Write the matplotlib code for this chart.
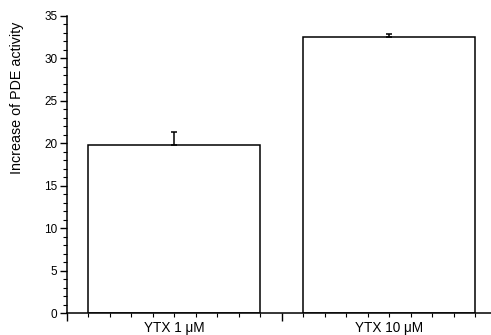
import matplotlib.pyplot as plt
from matplotlib.ticker import MultipleLocator, FixedLocator

plt.rcParams['font.family'] = ['Liberation Sans', 'DejaVu Sans']

# data
groups = ['YTX 1 μM', 'YTX 10 μM']
values = [19.8, 32.5]
errors = [1.5, 0.4]
positions = [5, 15]

fig = plt.figure(figsize=(4.91, 3.35), dpi=100)
ax = fig.add_axes([0.1365, 0.0648, 0.8635, 0.8875])

ax.bar(positions, values, width=8, color='white', edgecolor='black', linewidth=1.1, zorder=2)
ax.errorbar(positions, values, yerr=[[0, 0], errors], fmt='none', ecolor='black',
            elinewidth=1.1, capsize=2.5, capthick=1.1, zorder=3)

ax.set_xlim(0, 19.74)
ax.set_ylim(0, 35)
ax.spines['top'].set_visible(False)
ax.spines['right'].set_visible(False)
ax.spines['left'].set_linewidth(1.1)
ax.spines['bottom'].set_linewidth(1.1)

ax.yaxis.set_major_locator(MultipleLocator(5))
ax.yaxis.set_minor_locator(MultipleLocator(1))
ax.tick_params(axis='y', which='major', length=5, width=1, labelsize=8.5, pad=2)
ax.tick_params(axis='y', which='minor', length=3, width=0.8)

ax.xaxis.set_major_locator(FixedLocator([0, 10]))
ax.xaxis.set_minor_locator(FixedLocator([i for i in range(1, 20) if i != 10]))
ax.tick_params(axis='x', which='major', length=6, width=1, labelbottom=False)
ax.tick_params(axis='x', which='minor', length=3, width=0.8)
for p, g in zip(positions, groups):
    ax.text(p, -0.95, g, ha='center', va='top', fontsize=9.8)

# axis title sits high on the left, not centred on the axis
fig.text(17 / 491, 1 - 98 / 335, 'Increase of PDE activity', rotation=90,
         ha='center', va='center', fontsize=10.3)

fig.savefig('out.png', dpi=100)
